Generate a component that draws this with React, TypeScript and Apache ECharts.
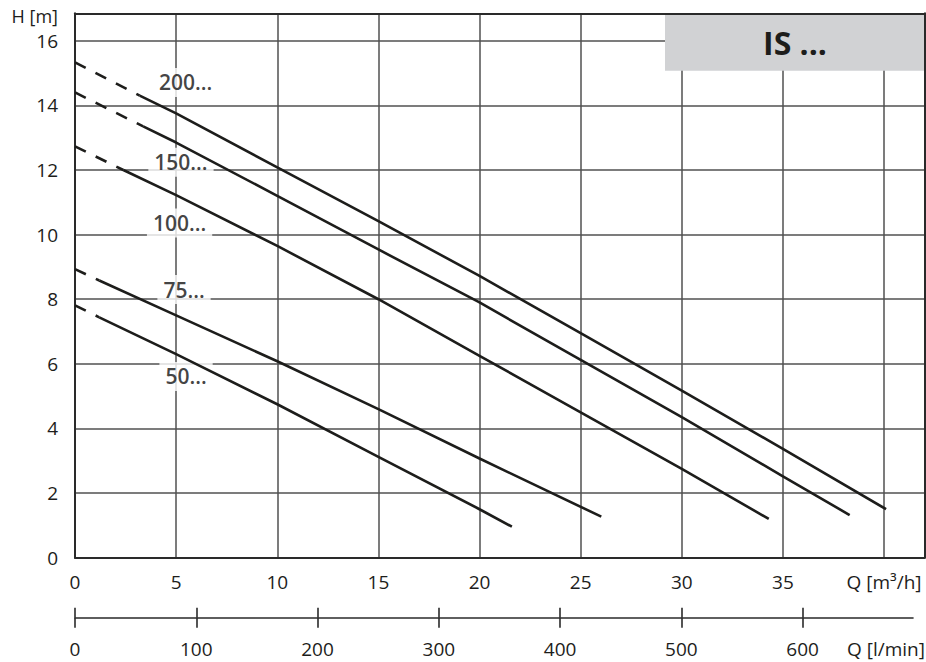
import React, { useEffect, useRef } from "react";
import * as echarts from "echarts";

// Q [m3/h] axis ticks, H [m] ticks, Q [l/min] ticks
const qTicks = [0, 5, 10, 15, 20, 25, 30, 35, 40];
const hTicks = [0, 2, 4, 6, 8, 10, 12, 14, 16];
const lminTicks = [0, 100, 200, 300, 400, 500, 600];

// Pump curves [Q m3/h, H m]
const curve200Dashed = [[0, 15.33], [3.2, 14.3]];
const curve200 = [[3.2, 14.3], [5, 13.75], [10, 12.08], [15, 10.42], [20, 8.72], [25, 6.95], [30, 5.17], [35, 3.37], [40.1, 1.5]];
const curve150Dashed = [[0, 14.4], [3.37, 13.35]];
const curve150 = [[3.37, 13.35], [5, 12.85], [10, 11.2], [15, 9.54], [20, 7.9], [25, 6.12], [30, 4.35], [35, 2.52], [38.3, 1.32]];
const curve100Dashed = [[0, 12.73], [2.39, 12.0]];
const curve100 = [[2.39, 12.0], [5, 11.22], [10, 9.65], [15, 8.0], [20, 6.25], [25, 4.5], [30, 2.75], [34.3, 1.2]];
const curve75Dashed = [[0, 8.93], [1.2, 8.58]];
const curve75 = [[1.2, 8.58], [5, 7.5], [10, 6.08], [15, 4.6], [20, 3.07], [26.02, 1.27]];
const curve50Dashed = [[0, 7.81], [1.2, 7.44]];
const curve50 = [[1.2, 7.44], [5, 6.3], [10, 4.75], [15, 3.12], [20, 1.5], [21.6, 0.96]];

// curve labels
const labelNames = ["200...", "150...", "100...", "75...", "50..."];
const labelQ = [5.47, 5.24, 5.17, 5.39, 5.49];
const labelH = [14.71, 12.24, 10.36, 8.3, 5.61];

const FONT = "'Open Sans', 'Noto Sans', sans-serif";
const INK = "#1d1d1b";
const GRID = "#505050";
const BORDER = "#2a2a2a";

export default function App() {
  const ref = useRef<HTMLDivElement>(null);
  useEffect(() => {
    const chart = echarts.init(ref.current!, null, { renderer: "svg" });
    const solid = (data: number[][]) => ({
      type: "line",
      xAxisIndex: 0,
      yAxisIndex: 0,
      data,
      symbol: "none",
      silent: true,
      z: 3,
      lineStyle: { color: INK, width: 2.6, cap: "butt", join: "round" },
    });
    const dashed = (data: number[][]) => ({
      type: "line",
      xAxisIndex: 0,
      yAxisIndex: 0,
      data,
      symbol: "none",
      silent: true,
      z: 3,
      lineStyle: { color: INK, width: 2.6, type: [12, 11], cap: "butt" },
    });
    const labelData = labelNames.map((n, i) => [labelQ[i], labelH[i], n]);

    const option: any = {
      animation: false,
      textStyle: { fontFamily: FONT },
      grid: [
        { left: 75, right: 1.5, top: 13.3, bottom: 104.3 },
        { left: 75, right: 13, top: 13.3, bottom: 104.3 },
      ],
      xAxis: [
        {
          gridIndex: 0,
          type: "value",
          min: 0,
          max: 42,
          interval: 5,
          axisLine: { show: true, onZero: false, lineStyle: { color: BORDER, width: 2 } },
          axisTick: { show: false },
          splitLine: { show: true, lineStyle: { color: GRID, width: 1.5 } },
          axisLabel: {
            customValues: qTicks,
            margin: 15,
            fontSize: 19,
            color: INK,
            fontFamily: FONT,
            formatter: (v: number) => (v === 40 ? "Q [m³/h]" : String(v)),
          },
        },
        {
          gridIndex: 0,
          type: "value",
          position: "top",
          min: 0,
          max: 42,
          z: 5,
          axisLine: { show: true, onZero: false, lineStyle: { color: BORDER, width: 2 } },
          axisTick: { show: false },
          axisLabel: { show: false },
          splitLine: { show: false },
        },
        {
          gridIndex: 1,
          type: "value",
          position: "bottom",
          offset: 60,
          min: 0,
          max: 691,
          axisLine: { show: true, onZero: false, lineStyle: { color: BORDER, width: 1.6 } },
          axisTick: { show: true, length: 10, customValues: lminTicks, lineStyle: { color: BORDER, width: 1.6 } },
          axisLabel: { customValues: lminTicks, margin: 22.5, fontSize: 19, lineHeight: 18, color: INK, fontFamily: FONT },
          splitLine: { show: false },
        },
        {
          gridIndex: 1,
          type: "value",
          position: "bottom",
          offset: 60,
          min: 0,
          max: 691,
          axisLine: { show: false, onZero: false },
          axisTick: { show: true, inside: true, length: 10, customValues: lminTicks, lineStyle: { color: BORDER, width: 1.6 } },
          axisLabel: { show: false },
          splitLine: { show: false },
        },
      ],
      yAxis: [
        {
          gridIndex: 0,
          type: "value",
          min: 0,
          max: 16.85,
          interval: 2,
          axisLine: { show: true, onZero: false, lineStyle: { color: BORDER, width: 2 } },
          axisTick: { show: false },
          splitLine: { show: true, lineStyle: { color: GRID, width: 1.5 } },
          axisLabel: { customValues: hTicks, margin: 17, fontSize: 19, color: INK, fontFamily: FONT },
          name: "H [m]",
          nameLocation: "end",
          nameGap: -2.5,
          nameTextStyle: { align: "right", verticalAlign: "middle", lineHeight: 16, padding: [0, 17, 0, 0], fontSize: 18, color: INK, fontFamily: FONT },
        },
        {
          gridIndex: 0,
          type: "value",
          position: "right",
          min: 0,
          max: 16.85,
          z: 5,
          axisLine: { show: true, onZero: false, lineStyle: { color: BORDER, width: 2 } },
          axisTick: { show: false },
          axisLabel: { show: false },
          splitLine: { show: false },
        },
        { gridIndex: 1, type: "value", show: false, min: 0, max: 1 },
      ],
      graphic: [
        {
          type: "rect",
          z: 1,
          shape: { x: 665, y: 14.3, width: 259.5, height: 56.4 },
          style: { fill: "#d1d2d4" },
          silent: true,
        },
        {
          type: "text",
          z: 2,
          x: 795,
          y: 42,
          style: {
            text: "IS ...",
            fontSize: 32,
            fontWeight: "bold",
            fontFamily: FONT,
            fill: INK,
            align: "center",
            verticalAlign: "middle",
          },
          silent: true,
        },
        {
          type: "text",
          z: 2,
          x: 886,
          y: 649.2,
          style: {
            text: "Q [l/min]",
            fontSize: 19,
            lineHeight: 18,
            fontFamily: FONT,
            fill: INK,
            align: "center",
            verticalAlign: "middle",
          },
          silent: true,
        },
      ],
      series: [
        {
          type: "scatter",
          xAxisIndex: 0,
          yAxisIndex: 0,
          symbolSize: 0,
          silent: true,
          z: 1,
          data: labelData,
          label: {
            show: true,
            position: "inside",
            formatter: (p: any) => p.data[2],
            fontSize: 21,
            fontWeight: 600,
            fontFamily: FONT,
            color: "#111111",
            backgroundColor: "#ffffff",
            padding: [4, 6],
          },
        },
        dashed(curve200Dashed),
        solid(curve200),
        dashed(curve150Dashed),
        solid(curve150),
        dashed(curve100Dashed),
        solid(curve100),
        dashed(curve75Dashed),
        solid(curve75),
        dashed(curve50Dashed),
        solid(curve50),
      ],
    };
    chart.setOption(option);
    return () => chart.dispose();
  }, []);
  return (
    <div
      ref={ref}
      style={{ position: "absolute", left: 0, top: 0, width: 926, height: 662, background: "#fff" }}
    />
  );
}
